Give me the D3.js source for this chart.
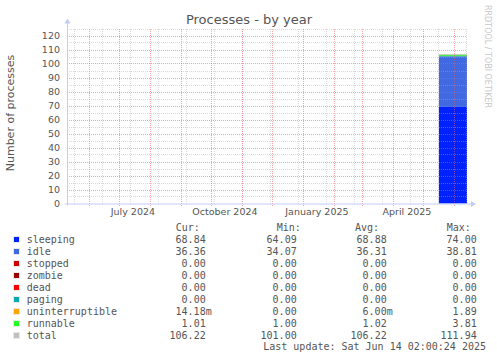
<!DOCTYPE html>
<html>
<head>
<meta charset="utf-8">
<script src="https://cdn.jsdelivr.net/npm/d3@7"></script>
<style>
  body { margin: 0; background: #fff; }
  svg { display: block; }
</style>
</head>
<body>
<div id="chart"></div>
<script>
const
  title = 'Processes - by year',
  yLabel = 'Number of processes',
  rangeStart = '2024-05-10T02:00:24Z',
  rangeEnd = '2025-06-14T02:00:24Z',
  yTickValues = [0, 10, 20, 30, 40, 50, 60, 70, 80, 90, 100, 110, 120],
  xLabelDates = ['2024-07-15', '2024-10-15', '2025-01-15', '2025-04-15'],
  xLabels = ['July 2024', 'October 2024', 'January 2025', 'April 2025'],

  // samples (the graph only has data for the last weeks)
  sampleDates = ['2025-05-17', '2025-05-24', '2025-05-31', '2025-06-07', '2025-06-14T02:00:00Z'],
  seriesNames = ['sleeping', 'idle', 'stopped', 'zombie', 'dead', 'paging', 'uninterruptible', 'runnable'],
  seriesColors = ['#0022ff', '#4169e1', '#cc0000', '#990000', '#ff0000', '#00aaaa', '#ffa500', '#22ff22'],
  sleeping = [68.9, 68.9, 68.9, 68.9, 68.84],
  idle = [36.3, 36.3, 36.3, 36.3, 36.36],
  stopped = [0, 0, 0, 0, 0],
  zombie = [0, 0, 0, 0, 0],
  dead = [0, 0, 0, 0, 0],
  paging = [0, 0, 0, 0, 0],
  uninterruptible = [0.006, 0.006, 0.006, 0.006, 0.014],
  runnable = [1.02, 1.02, 1.02, 1.02, 1.01],
  total = [106.23, 106.23, 106.23, 106.23, 106.22],

  legendNames = ['sleeping', 'idle', 'stopped', 'zombie', 'dead', 'paging', 'uninterruptible', 'runnable', 'total'],
  legendColors = ['#0022ff', '#4169e1', '#cc0000', '#990000', '#ff0000', '#00aaaa', '#ffa500', '#22ff22', '#c0c0c0'],
  curValues = ['68.84', '36.36', '0.00', '0.00', '0.00', '0.00', '14.18m', '1.01', '106.22'],
  minValues = ['64.09', '34.07', '0.00', '0.00', '0.00', '0.00', '0.00', '1.00', '101.00'],
  avgValues = ['68.88', '36.31', '0.00', '0.00', '0.00', '0.00', '6.00m', '1.02', '106.22'],
  maxValues = ['74.00', '38.81', '0.00', '0.00', '0.00', '0.00', '1.89', '3.81', '111.94'],
  lastUpdate = 'Last update: Sat Jun 14 02:00:24 2025';

const
  W = 497,
  H = 360,
  pad = { left: 67, top: 28.5, width: 400, height: 175 },
  sans = 'DejaVu Sans, sans-serif',
  mono = 'DejaVu Sans Mono, monospace',
  textColor = '#555',
  gridColor = 'rgba(170,170,170,0.45)',
  mgridColor = 'rgba(235,90,90,0.55)',
  axisColor = '#c4ccf4';

let svg, x, y, plot, stack, rows, area, grid;

x = d3.scaleUtc()
  .domain([new Date(rangeStart), new Date(rangeEnd)])
  .range([pad.left, pad.left + pad.width]);

y = d3.scaleLinear()
  .domain([0, 125])
  .range([pad.top + pad.height, pad.top]);

svg = d3.select('#chart')
  .append('svg')
  .attr('width', W)
  .attr('height', H)
  .style('background', '#fff');

// title
svg.append('text')
  .attr('x', 249)
  .attr('y', 24)
  .attr('text-anchor', 'middle')
  .attr('font-family', sans)
  .attr('font-size', 13)
  .attr('fill', textColor)
  .text(title);

// y axis label
svg.append('text')
  .attr('transform', 'translate(14,' + (pad.top + pad.height / 2 - 3) + ') rotate(-90)')
  .attr('text-anchor', 'middle')
  .attr('font-family', sans)
  .attr('font-size', 11)
  .attr('fill', textColor)
  .text(yLabel);

// watermark
svg.append('text')
  .attr('transform', 'translate(485,5) rotate(90)')
  .attr('font-family', sans)
  .attr('font-size', 8)
  .attr('fill', '#c8c8c8')
  .text('RRDTOOL / TOBI OETIKER');

// stacked areas
rows = sampleDates.map(function (d, i) {
  let r = { date: new Date(d) };
  r.sleeping = sleeping[i];
  r.idle = idle[i];
  r.stopped = stopped[i];
  r.zombie = zombie[i];
  r.dead = dead[i];
  r.paging = paging[i];
  r.uninterruptible = uninterruptible[i];
  r.runnable = runnable[i];
  r.total = total[i];
  return r;
});

stack = d3.stack().keys(seriesNames)(rows);

area = d3.area()
  .x(function (d) { return x(d.data.date); })
  .y0(function (d) { return y(d[0]); })
  .y1(function (d) { return y(d[1]); });

plot = svg.append('g');

plot.selectAll('path.layer')
  .data(stack)
  .enter().append('path')
  .attr('class', 'layer')
  .attr('fill', function (d, i) { return seriesColors[i]; })
  .attr('d', area);

plot.append('path')
  .datum(rows)
  .attr('fill', 'none')
  .attr('stroke', '#c0c0c0')
  .attr('stroke-width', 1)
  .attr('d', d3.line()
    .x(function (d) { return x(d.date); })
    .y(function (d) { return y(d.total); }));

// grid
grid = svg.append('g')
  .attr('shape-rendering', 'crispEdges')
  .attr('stroke-dasharray', '1,1');

// minor horizontal every 5
grid.selectAll('line.hmin')
  .data(y.ticks(25).filter(function (d) { return d % 10 !== 0; }))
  .enter().append('line')
  .attr('x1', pad.left).attr('x2', pad.left + pad.width)
  .attr('y1', function (d) { return Math.round(y(d)) + 0.5; })
  .attr('y2', function (d) { return Math.round(y(d)) + 0.5; })
  .attr('stroke', gridColor);

// minor vertical every 4 weeks
grid.selectAll('line.vmin')
  .data(d3.utcDay.range(new Date('2024-05-17'), x.domain()[1], 28))
  .enter().append('line')
  .attr('x1', function (d) { return Math.round(x(d)) + 0.5; })
  .attr('x2', function (d) { return Math.round(x(d)) + 0.5; })
  .attr('y1', pad.top).attr('y2', pad.top + pad.height)
  .attr('stroke', gridColor);

// major horizontal
grid.selectAll('line.hmaj')
  .data(yTickValues.slice(1))
  .enter().append('line')
  .attr('x1', pad.left).attr('x2', pad.left + pad.width)
  .attr('y1', function (d) { return Math.round(y(d)) + 0.5; })
  .attr('y2', function (d) { return Math.round(y(d)) + 0.5; })
  .attr('stroke', mgridColor);

// major vertical at month starts
grid.selectAll('line.vmaj')
  .data(d3.utcMonth.range(x.domain()[0], x.domain()[1]))
  .enter().append('line')
  .attr('x1', function (d) { return Math.round(x(d)) + 0.5; })
  .attr('x2', function (d) { return Math.round(x(d)) + 0.5; })
  .attr('y1', pad.top).attr('y2', pad.top + pad.height + 3)
  .attr('stroke', mgridColor);

// y tick labels
svg.append('g')
  .attr('transform', 'translate(' + (pad.left - 1) + ',0)')
  .call(d3.axisLeft(y).tickValues(yTickValues).tickSize(0).tickPadding(6))
  .call(function (g) { g.select('.domain').remove(); })
  .selectAll('text')
  .attr('font-family', sans)
  .attr('font-size', 9.5)
  .attr('fill', textColor);

// x labels
svg.append('g')
  .selectAll('text')
  .data(xLabelDates)
  .enter().append('text')
  .attr('x', function (d) { return x(new Date(d)); })
  .attr('y', 215)
  .attr('text-anchor', 'middle')
  .attr('font-family', sans)
  .attr('font-size', 9.5)
  .attr('fill', textColor)
  .text(function (d, i) { return xLabels[i]; });

// axes with arrows
svg.append('line')
  .attr('x1', pad.left + 0.5).attr('x2', pad.left + 0.5)
  .attr('y1', pad.top + pad.height + 2).attr('y2', pad.top - 6)
  .attr('stroke', axisColor);
svg.append('line')
  .attr('x1', pad.left - 2).attr('x2', pad.left + pad.width + 4)
  .attr('y1', pad.top + pad.height + 0.5).attr('y2', pad.top + pad.height + 0.5)
  .attr('stroke', axisColor);
svg.append('path')
  .attr('d', 'M' + (pad.left - 2.5) + ',' + (pad.top - 5) + 'L' + (pad.left + 0.5) + ',' + (pad.top - 10) + 'L' + (pad.left + 3.5) + ',' + (pad.top - 5) + 'Z')
  .attr('fill', axisColor);
svg.append('path')
  .attr('d', 'M' + (pad.left + pad.width + 4) + ',' + (pad.top + pad.height - 2.5) + 'L' + (pad.left + pad.width + 9) + ',' + (pad.top + pad.height + 0.5) + 'L' + (pad.left + pad.width + 4) + ',' + (pad.top + pad.height + 3.5) + 'Z')
  .attr('fill', axisColor);

// legend
const legend = svg.append('g')
  .attr('font-family', mono)
  .attr('font-size', 10)
  .attr('fill', textColor);

[['Cur:', 175.7], ['Min:', 276.7], ['Avg:', 355], ['Max:', 446.7]].forEach(function (h) {
  legend.append('text').attr('x', h[1]).attr('y', 231).text(h[0]);
});

legendNames.forEach(function (name, i) {
  let ry = 243 + i * 12;

  legend.append('rect')
    .attr('x', 13.5).attr('y', ry - 6.5)
    .attr('width', 6).attr('height', 6)
    .attr('fill', legendColors[i])
    .attr('stroke', '#e8e8e8')
    .attr('stroke-width', 1);

  legend.append('text').attr('x', 26.7).attr('y', ry).text(name);

  [[curValues, 211.7], [minValues, 302.7], [avgValues, 392.7], [maxValues, 482.7]].forEach(function (c) {
    let v = c[0][i], hasUnit = /[a-z]$/.test(v);
    legend.append('text')
      .attr('x', c[1] - (hasUnit ? 0 : 6))
      .attr('y', ry)
      .attr('text-anchor', 'end')
      .text(v);
  });
});

legend.append('text')
  .attr('x', 486)
  .attr('y', 349.5)
  .attr('text-anchor', 'end')
  .text(lastUpdate);
</script>
</body>
</html>
